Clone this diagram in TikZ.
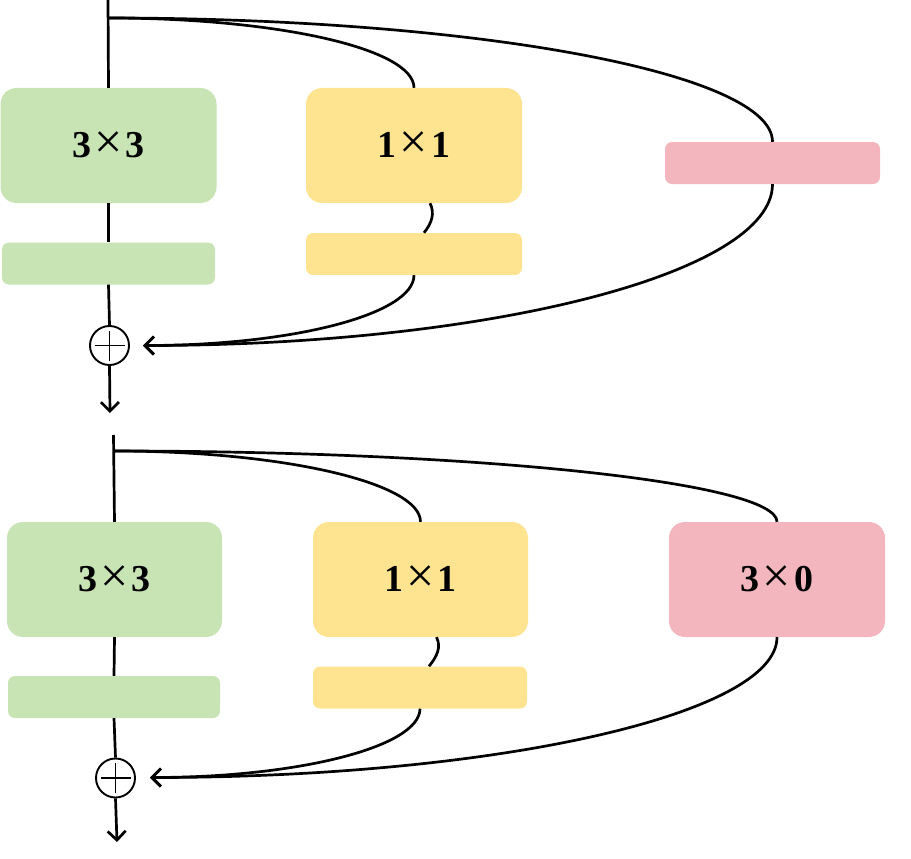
\documentclass[tikz,border=0pt]{standalone}
\usepackage{fontspec}
\setmainfont{Liberation Serif}
\usetikzlibrary{arrows.meta}
\definecolor{cgreen}{RGB}{200,228,180}
\definecolor{cyellow}{RGB}{254,228,145}
\definecolor{cpink}{RGB}{243,182,190}
\newcommand{\lab}[2]{#1\kern3pt\raisebox{-1pt}{\mdseries\fontsize{50}{50}\selectfont ×}\kern3pt#2}
\begin{document}
\begin{tikzpicture}[x=1pt,y=-1pt,
  bigbox/.style={rectangle, rounded corners=16pt, minimum width=216pt, minimum height=115pt, inner sep=0pt,
    font=\fontsize{38}{40}\selectfont\bfseries},
  barbox/.style={rectangle, rounded corners=7pt, minimum width=214pt, minimum height=42pt, inner sep=0pt},
  conn/.style={line width=2.7pt},
  arr/.style={conn, -{Straight Barb[length=9pt,width=18pt]}},
  addc/.style={circle, draw, line width=1.9pt, minimum size=39pt, inner sep=0pt}]
\useasboundingbox (0,0) rectangle (911,859);
% ---------- top block ----------
\node[bigbox, fill=cgreen] (g1) at (108.5,145.5) {\lab{3}{3}};
\node[barbox, fill=cgreen, minimum width=213pt] (gb1) at (108.5,263.5) {};
\node[bigbox, fill=cyellow] (y1) at (414,145.5) {\lab{1}{1}};
\node[barbox, fill=cyellow, minimum width=216pt] (yb1) at (414,254) {};
\node[barbox, fill=cpink, minimum width=215pt] (p1) at (772.5,163) {};
\node[addc] (c1) at (109.5,345.5) {};
\draw[line width=1.5pt] ([xshift=-15pt]c1.center) -- ([xshift=15pt]c1.center)
  ([yshift=-15pt]c1.center) -- ([yshift=15pt]c1.center);
\coordinate (in1) at (108,0);
\coordinate (j1) at (108,18);
\coordinate (t1) at (143,345.5);
\coordinate (o1) at (110,413);
\draw[conn] (in1) -- (g1.north);
\draw[conn] (g1.south) -- (gb1.north);
\draw[conn] (gb1.south) -- (c1.north);
\draw[arr] (c1.south) -- (o1);
\draw[conn] (j1) .. controls +(170,0) and +(0,-39) .. (y1.north);
\draw[conn] (j1) .. controls +(367,0) and +(0,-69) .. (p1.north);
\draw[conn] ([xshift=16pt]y1.south) .. controls +(5,10) and +(8,-10) .. ([xshift=10pt]yb1.north);
\draw[arr] (yb1.south) .. controls +(0,39) and +(150,0) .. (t1);
\draw[arr] (p1.south) .. controls +(0,89) and +(347,0) .. (t1);
% ---------- bottom block ----------
\node[bigbox, fill=cgreen, minimum width=215pt] (g2) at (114.5,579.5) {\lab{3}{3}};
\node[barbox, fill=cgreen, minimum width=212pt] (gb2) at (114,697) {};
\node[bigbox, fill=cyellow, minimum width=215pt] (y2) at (420.5,579.5) {\lab{1}{1}};
\node[barbox, fill=cyellow, minimum width=214pt] (yb2) at (420,687.5) {};
\node[bigbox, fill=cpink] (p2) at (777,579.5) {\lab{3}{0}};
\node[addc] (c2) at (115.5,778) {};
\draw[line width=1.5pt] ([xshift=-15pt]c2.center) -- ([xshift=15pt]c2.center)
  ([yshift=-15pt]c2.center) -- ([yshift=15pt]c2.center);
\coordinate (in2) at (113.5,435);
\coordinate (j2) at (114,451);
\coordinate (t2) at (150,777.5);
\coordinate (o2) at (117,842);
\draw[conn] (in2) -- (g2.north);
\draw[conn] (g2.south) -- (gb2.north);
\draw[conn] (gb2.south) -- (c2.north);
\draw[arr] (c2.south) -- (o2);
\draw[conn] (j2) .. controls +(169,0) and +(0,-39) .. (y2.north);
\draw[conn] (j2) .. controls +(367,0) and +(0,-39) .. (p2.north);
\draw[conn] ([xshift=16pt]y2.south) .. controls +(5,10) and +(8,-10) .. ([xshift=9pt]yb2.north);
\draw[arr] (yb2.south) .. controls +(0,38) and +(149,0) .. (t2);
\draw[arr] (p2.south) .. controls +(0,77) and +(347,0) .. (t2);
\end{tikzpicture}
\end{document}
